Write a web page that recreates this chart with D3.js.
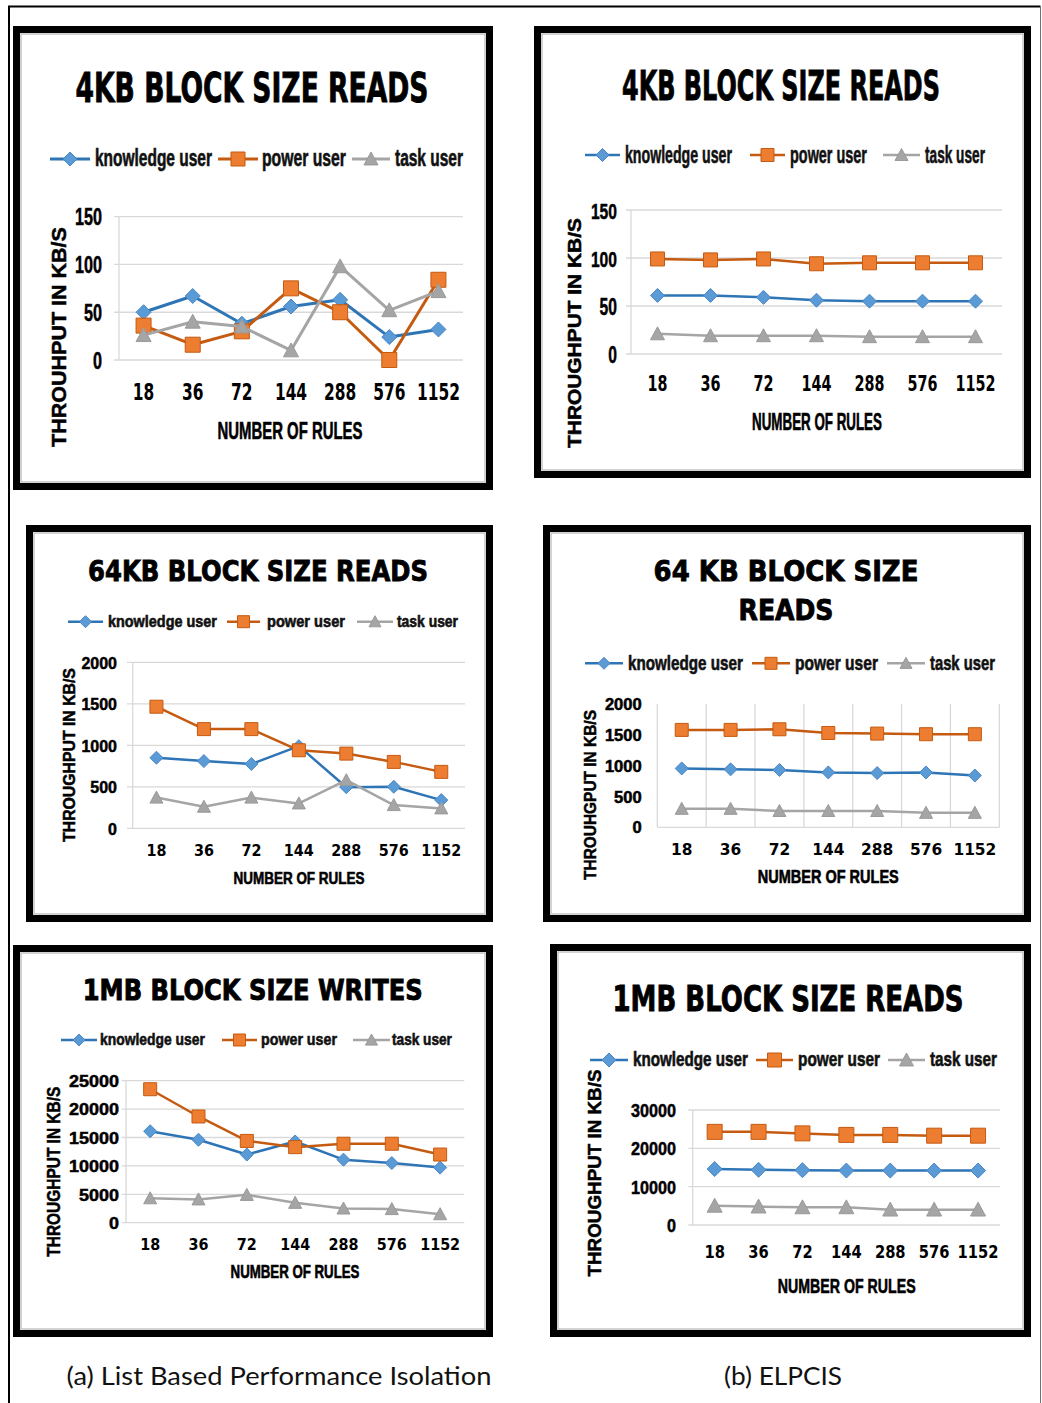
<!DOCTYPE html>
<html>
<head>
<meta charset="utf-8">
<script src="https://cdn.jsdelivr.net/npm/d3@7"></script>
<style>
  html, body { margin: 0; padding: 0; background: #fff; }
  svg { display: block; }
</style>
</head>
<body>
<svg id="fig" width="1042" height="1403"></svg>
<script>
// ---- data -------------------------------------------------------------
const categories = ["18", "36", "72", "144", "288", "576", "1152"];
const seriesNames = ["knowledge user", "power user", "task user"];

// (a) list based performance isolation, 4KB reads
const listRead4kKnowledge = [50, 67, 38, 56, 63, 24, 32];
const listRead4kPower     = [36, 16, 30, 75, 50, 0, 84];
const listRead4kTask      = [26, 40, 35, 10, 98, 52, 72];
// (b) ELPCIS, 4KB reads
const elpcisRead4kKnowledge = [61, 61, 59, 56, 55, 55, 55];
const elpcisRead4kPower     = [99, 98, 99, 94, 95, 95, 95];
const elpcisRead4kTask      = [21, 19, 19, 19, 18, 18, 18];
// (a) 64KB reads
const listRead64kKnowledge = [850, 810, 775, 990, 495, 500, 340];
const listRead64kPower     = [1465, 1195, 1195, 940, 900, 800, 680];
const listRead64kTask      = [370, 260, 370, 300, 580, 280, 240];
// (b) 64KB reads
const elpcisRead64kKnowledge = [955, 940, 930, 890, 880, 890, 840];
const elpcisRead64kPower     = [1580, 1580, 1590, 1530, 1520, 1510, 1510];
const elpcisRead64kTask      = [300, 300, 265, 265, 265, 235, 235];
// (a) 1MB writes
const listWrite1mKnowledge = [16100, 14600, 12000, 14300, 11100, 10500, 9700];
const listWrite1mPower     = [23500, 18700, 14400, 13300, 13900, 13900, 12000];
const listWrite1mTask      = [4300, 4100, 4900, 3500, 2500, 2400, 1500];
// (b) 1MB reads
const elpcisRead1mKnowledge = [14600, 14400, 14300, 14200, 14200, 14200, 14200];
const elpcisRead1mPower     = [24300, 24300, 23900, 23500, 23500, 23300, 23300];
const elpcisRead1mTask      = [5000, 4800, 4600, 4600, 4000, 4000, 4000];

// y tick values
const yTicks4k = [0, 50, 100, 150];
const yTicks64k = [0, 500, 1000, 1500, 2000];
const yTicks1mWrite = [0, 5000, 10000, 15000, 20000, 25000];
const yTicks1mRead = [0, 10000, 20000, 30000];

const xAxisTitle = "NUMBER OF RULES";
const captionA = "(a) List Based Performance Isolation";
const captionB = "(b) ELPCIS";

// ---- styles -----------------------------------------------------------
const lineColors   = ["#2E75B6", "#C55A11", "#A5A5A5"];
const markerFills  = ["#5B9BD5", "#ED7D31", "#A5A5A5"];
const markerStroke = ["#4A86C5", "#C55A11", "#9A9A9A"];
const markerShapes = ["diamond", "square", "triangle"];
const condensed = "'Liberation Sans Narrow', 'Liberation Sans', Arial, sans-serif";
const wide = "'DejaVu Sans', Verdana, sans-serif";

// ---- panel layout -----------------------------------------------------
const panels = [
  {
    series: [listRead4kKnowledge, listRead4kPower, listRead4kTask], ticks: yTicks4k,
    frame: [13, 26, 493, 490],
    plot: { left: 119, right: 463, top: 216.7, bottom: 360, gridLeft: 114 },
    title: { lines: ["4KB BLOCK SIZE READS"], cx: 252, baselines: [102], widths: [353], fs: 41 },
    legend: { y: 159, fs: 23, items: [[50, 90, 95, 212], [218, 258, 262, 346], [352, 390, 395, 463]] },
    yLab: { right: 102, fs: 23, cw: 9 },
    xLab: { y: 392, fs: 23, cw: 10.75 },
    xTitle: { cx: 290, cy: 430, w: 145, fs: 24 },
    yTitle: { text: "THROUHPUT IN KB/S", cx: 59, cy: 337, len: 220, fs: 20.5 },
    marker: 15, lw: 3
  },
  {
    series: [elpcisRead4kKnowledge, elpcisRead4kPower, elpcisRead4kTask], ticks: yTicks4k,
    frame: [534, 26, 1031, 478],
    plot: { left: 631, right: 1002, top: 210, bottom: 354, gridLeft: 626 },
    title: { lines: ["4KB BLOCK SIZE READS"], cx: 781, baselines: [100], widths: [318], fs: 41 },
    legend: { y: 155, fs: 24, items: [[585, 620, 625, 732], [750, 785, 790, 867], [883, 920, 925, 985]] },
    yLab: { right: 617, fs: 23, cw: 8.7 },
    xLab: { y: 383, fs: 21.5, cw: 10 },
    xTitle: { cx: 817, cy: 422, w: 130, fs: 23 },
    yTitle: { text: "THROUGHPUT IN KB/S", cx: 575, cy: 333, len: 230, fs: 18 },
    marker: 14, lw: 2.5
  },
  {
    series: [listRead64kKnowledge, listRead64kPower, listRead64kTask], ticks: yTicks64k,
    frame: [26, 525, 493, 922],
    plot: { left: 132.7, right: 465, top: 662.3, bottom: 828.3, gridLeft: 127 },
    title: { lines: ["64KB BLOCK SIZE READS"], cx: 258, baselines: [581], widths: [340], fs: 29 },
    legend: { y: 621.7, fs: 16.5, items: [[68, 103, 108, 217], [227, 260, 267, 345], [357, 393, 397, 458]] },
    yLab: { right: 117, fs: 16.5, cw: 8.9 },
    xLab: { y: 850, fs: 16.5, cw: 10 },
    xTitle: { cx: 299, cy: 877.7, w: 131, fs: 17 },
    yTitle: { text: "THROUGHPUT IN KB/S", cx: 69, cy: 755, len: 174, fs: 16 },
    marker: 13, lw: 2.5
  },
  {
    series: [elpcisRead64kKnowledge, elpcisRead64kPower, elpcisRead64kTask], ticks: yTicks64k,
    frame: [543, 525, 1031, 922],
    plot: { left: 657.3, right: 999.3, top: 704, bottom: 827.3, vgrid: true },
    title: { lines: ["64 KB BLOCK SIZE", "READS"], cx: 786, baselines: [581, 620], widths: [265, 95], fs: 29 },
    legend: { y: 663.3, fs: 20, items: [[585, 623, 628, 743], [752, 790, 795, 878], [887, 925, 930, 995]] },
    yLab: { right: 641.7, fs: 16, cw: 9.2 },
    xLab: { y: 849.3, fs: 16, cw: 10.75 },
    xTitle: { cx: 828.3, cy: 876.7, w: 141, fs: 18 },
    yTitle: { text: "THROUHGPUT IN KB/S", cx: 590, cy: 795, len: 170, fs: 17 },
    marker: 13, lw: 2.5
  },
  {
    series: [listWrite1mKnowledge, listWrite1mPower, listWrite1mTask], ticks: yTicks1mWrite,
    frame: [13, 945, 493, 1337],
    plot: { left: 126, right: 464.3, top: 1080.7, bottom: 1222.7, gridLeft: 121.7 },
    title: { lines: ["1MB BLOCK SIZE WRITES"], cx: 252.7, baselines: [1000], widths: [340], fs: 28 },
    legend: { y: 1040, fs: 17, items: [[61, 97, 100, 205], [222, 257, 261, 337], [353, 390, 392, 452]] },
    yLab: { right: 119, fs: 16.5, cw: 10 },
    xLab: { y: 1244, fs: 16, cw: 10 },
    xTitle: { cx: 295, cy: 1271.7, w: 129, fs: 18 },
    yTitle: { text: "THROUGHPUT IN KB/S", cx: 53.3, cy: 1171.7, len: 170, fs: 18 },
    marker: 13, lw: 2.5
  },
  {
    series: [elpcisRead1mKnowledge, elpcisRead1mPower, elpcisRead1mTask], ticks: yTicks1mRead,
    frame: [550, 944, 1031, 1337],
    plot: { left: 692.7, right: 1000, top: 1110, bottom: 1225, gridLeft: 688.3 },
    title: { lines: ["1MB BLOCK SIZE READS"], cx: 788, baselines: [1011], widths: [351], fs: 35 },
    legend: { y: 1060, fs: 20, items: [[590, 628, 633, 748], [756, 793, 798, 880], [888, 925, 930, 997]] },
    yLab: { right: 676, fs: 19, cw: 9 },
    xLab: { y: 1251.7, fs: 18, cw: 10.25 },
    xTitle: { cx: 846.7, cy: 1286, w: 138, fs: 20.5 },
    yTitle: { text: "THROUGHPUT IN KB/S", cx: 595, cy: 1173, len: 207, fs: 18 },
    marker: 15, lw: 2.5
  }
];

// ---- drawing ----------------------------------------------------------
const svg = d3.select("#fig");
svg.append("rect").attr("width", 1042).attr("height", 1403).attr("fill", "#fff");

// figure rule
svg.append("path").attr("d", "M9,1403 V6.5 H1040.5")
  .attr("fill", "none").attr("stroke", "#000").attr("stroke-width", 2);
svg.append("line").attr("x1", 1040.5).attr("y1", 6.5).attr("x2", 1040.5).attr("y2", 1403)
  .attr("stroke", "#6f6f6f").attr("stroke-width", 1);

// squeeze a text element horizontally so that it spans `w` pixels,
// keeping its anchor point (x = 0 in its own frame) fixed
function squeeze(textNode, w, base) {
  const natural = textNode.getComputedTextLength();
  const k = natural > 0 ? w / natural : 1;
  textNode.setAttribute("transform", (base || "") + ` scale(${k},1)`);
}

function placedText(parent, x, y, str, w, opts) {
  const t = parent.append("text")
    .attr("x", 0).attr("y", 0)
    .attr("dy", opts.dy || null)
    .attr("text-anchor", opts.anchor || "start")
    .attr("font-family", opts.family).attr("font-weight", opts.weight || "bold")
    .attr("font-size", opts.fs)
    .attr("fill", opts.fill || "#000")
    .attr("stroke", opts.stroke ? (opts.fill || "#000") : null)
    .attr("stroke-width", opts.stroke || null)
    .text(str);
  squeeze(t.node(), w, `translate(${x},${y})${opts.rotate ? " rotate(" + opts.rotate + ")" : ""}`);
  return t;
}

function markerPath(shape, s) {
  const h = s / 2;
  if (shape === "diamond") return `M0,${-h}L${h},0L0,${h}L${-h},0Z`;
  if (shape === "square") return `M${-h},${-h}H${h}V${h}H${-h}Z`;
  return `M0,${-h}L${h},${h * 0.85}L${-h},${h * 0.85}Z`;
}

function drawMarker(g, i, cx, cy, s) {
  g.append("path")
    .attr("d", markerPath(markerShapes[i], s))
    .attr("transform", `translate(${cx},${cy})`)
    .attr("fill", markerFills[i])
    .attr("stroke", markerStroke[i])
    .attr("stroke-width", 1);
}

function drawPanel(p) {
  const g = svg.append("g");
  const [fx0, fy0, fx1, fy1] = p.frame;

  // frame
  g.append("rect")
    .attr("x", fx0 + 3.5).attr("y", fy0 + 3.5)
    .attr("width", fx1 - fx0 - 7).attr("height", fy1 - fy0 - 7)
    .attr("fill", "#fff").attr("stroke", "#000").attr("stroke-width", 7);
  g.append("rect")
    .attr("x", fx0 + 8).attr("y", fy0 + 8)
    .attr("width", fx1 - fx0 - 16).attr("height", fy1 - fy0 - 16)
    .attr("fill", "none").attr("stroke", "#c4c4c4").attr("stroke-width", 1.5);

  const yMax = p.ticks[p.ticks.length - 1];
  const x = d3.scaleBand().domain(categories).range([p.plot.left, p.plot.right]).padding(0);
  const y = d3.scaleLinear().domain([0, yMax]).range([p.plot.bottom, p.plot.top]);
  const cxOf = c => x(c) + x.bandwidth() / 2;

  // grid
  const grid = g.append("g").attr("stroke", "#d9d9d9").attr("stroke-width", 1.3);
  if (p.plot.vgrid) {
    const bounds = categories.map(c => x(c)).concat([p.plot.right]);
    grid.selectAll("line.v").data(bounds).join("line")
      .attr("x1", d => d).attr("x2", d => d)
      .attr("y1", y(yMax)).attr("y2", y(0));
    grid.append("line")
      .attr("x1", p.plot.left).attr("x2", p.plot.right)
      .attr("y1", y(0)).attr("y2", y(0));
  } else {
    grid.selectAll("line.h").data(p.ticks).join("line")
      .attr("x1", p.plot.gridLeft).attr("x2", p.plot.right)
      .attr("y1", d => y(d)).attr("y2", d => y(d));
    grid.append("line")
      .attr("x1", p.plot.left).attr("x2", p.plot.left)
      .attr("y1", y(yMax)).attr("y2", y(0));
  }

  // y labels
  const ya = g.append("g").attr("transform", `translate(${p.yLab.right},0)`)
    .call(d3.axisLeft(y).tickValues(p.ticks).tickSize(0).tickPadding(0).tickFormat(d3.format("d")));
  ya.select(".domain").remove();
  ya.attr("font-family", condensed).attr("font-size", p.yLab.fs).attr("font-weight", "bold");
  ya.selectAll("text")
    .attr("fill", "#000").attr("stroke", "#000").attr("stroke-width", 0.5)
    .attr("x", 0).attr("dy", "0.35em")
    .each(function () { squeeze(this, this.textContent.length * p.yLab.cw); });

  // x labels
  const xa = g.append("g").attr("transform", `translate(0,${p.xLab.y})`)
    .call(d3.axisBottom(x).tickSize(0).tickPadding(0));
  xa.select(".domain").remove();
  xa.attr("font-family", wide).attr("font-size", p.xLab.fs).attr("font-weight", "bold");
  xa.selectAll("text")
    .attr("fill", "#000")
    .attr("y", 0).attr("dy", "0.36em")
    .each(function () { squeeze(this, this.textContent.length * p.xLab.cw); });

  // series
  const line = d3.line().x(d => cxOf(d.c)).y(d => y(d.v));
  p.series.forEach((vals, i) => {
    const pts = categories.map((c, k) => ({ c, v: vals[k] }));
    const sg = g.append("g");
    sg.append("path").datum(pts)
      .attr("d", line).attr("fill", "none")
      .attr("stroke", lineColors[i]).attr("stroke-width", p.lw)
      .attr("stroke-linejoin", "round");
    pts.forEach(d => drawMarker(sg, i, cxOf(d.c), y(d.v), p.marker));
  });

  // title
  p.title.lines.forEach((t, k) => {
    placedText(g, p.title.cx, p.title.baselines[k], t, p.title.widths[k],
      { anchor: "middle", family: wide, fs: p.title.fs, stroke: 0.9 });
  });

  // legend
  seriesNames.forEach((name, i) => {
    const [l0, l1, t0, t1] = p.legend.items[i];
    g.append("line")
      .attr("x1", l0).attr("x2", l1).attr("y1", p.legend.y).attr("y2", p.legend.y)
      .attr("stroke", lineColors[i]).attr("stroke-width", p.lw);
    drawMarker(g, i, (l0 + l1) / 2, p.legend.y, p.marker - 1);
    placedText(g, t0, p.legend.y, name, t1 - t0,
      { dy: "0.32em", family: condensed, fs: p.legend.fs, fill: "#111", stroke: 0.6 });
  });

  // axis titles
  placedText(g, p.xTitle.cx, p.xTitle.cy, xAxisTitle, p.xTitle.w,
    { dy: "0.36em", anchor: "middle", family: condensed, fs: p.xTitle.fs, stroke: 0.6 });
  placedText(g, p.yTitle.cx, p.yTitle.cy, p.yTitle.text, p.yTitle.len,
    { dy: "0.36em", anchor: "middle", family: condensed, fs: p.yTitle.fs, stroke: 0.5, rotate: -90 });
}

panels.forEach(drawPanel);

// captions
const capFont = "Lato, 'Open Sans', 'Liberation Sans', sans-serif";
placedText(svg, 279, 1376, captionA, 425,
  { dy: "0.36em", anchor: "middle", family: capFont, weight: "normal", fs: 25, fill: "#111" });
placedText(svg, 783, 1376, captionB, 118,
  { dy: "0.36em", anchor: "middle", family: capFont, weight: "normal", fs: 25, fill: "#111" });
</script>
</body>
</html>
